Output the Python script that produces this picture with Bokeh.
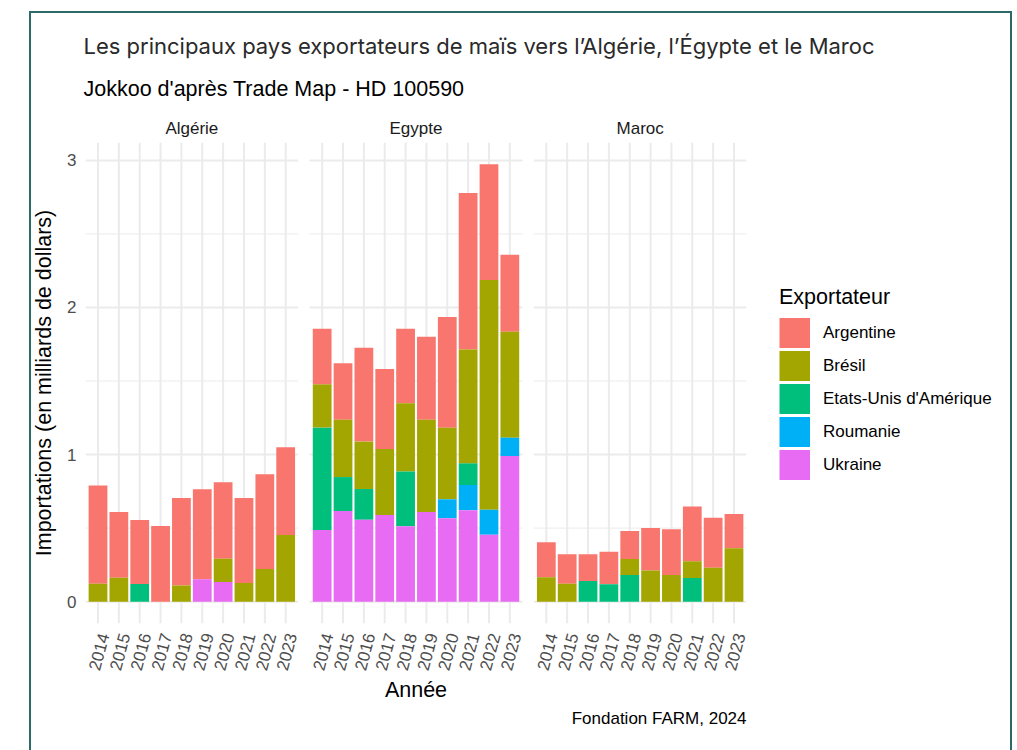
import math
import numpy as np
from bokeh.plotting import figure
from bokeh.models import (ColumnDataSource, Range1d, FixedTicker, Legend, LegendItem,
                          LinearAxis, Title)
from bokeh.embed import file_html
from bokeh.resources import INLINE

# ---------------- data ----------------
annees = ["2014", "2015", "2016", "2017", "2018", "2019", "2020", "2021", "2022", "2023"]
pays = ["Algérie", "Egypte", "Maroc"]
exportateurs = ["Argentine", "Brésil", "Etats-Unis d'Amérique", "Roumanie", "Ukraine"]
couleurs = ["#F8766D", "#A3A500", "#00BF7D", "#00B0F6", "#E76BF3"]
graduations_y = [0, 1, 2, 3]

# importations en milliards de dollars
algerie_argentine = [0.667, 0.447, 0.435, 0.514, 0.596, 0.612, 0.519, 0.578, 0.644, 0.596]
algerie_bresil = [0.122, 0.163, 0.0, 0.0, 0.109, 0.0, 0.158, 0.127, 0.222, 0.453]
algerie_etats_unis = [0.0, 0.0, 0.120, 0.0, 0.0, 0.0, 0.0, 0.0, 0.0, 0.0]
algerie_roumanie = [0.0, 0.0, 0.0, 0.0, 0.0, 0.0, 0.0, 0.0, 0.0, 0.0]
algerie_ukraine = [0.0, 0.0, 0.0, 0.0, 0.0, 0.152, 0.134, 0.0, 0.0, 0.0]

egypte_argentine = [0.379, 0.383, 0.639, 0.544, 0.508, 0.564, 0.752, 1.063, 0.786, 0.524]
egypte_bresil = [0.294, 0.390, 0.322, 0.449, 0.464, 0.627, 0.487, 0.775, 1.562, 0.720]
egypte_etats_unis = [0.696, 0.231, 0.209, 0.0, 0.372, 0.0, 0.0, 0.147, 0.0, 0.0]
egypte_roumanie = [0.0, 0.0, 0.0, 0.0, 0.0, 0.0, 0.129, 0.172, 0.170, 0.125]
egypte_ukraine = [0.487, 0.616, 0.557, 0.589, 0.512, 0.610, 0.567, 0.621, 0.455, 0.990]

maroc_argentine = [0.238, 0.200, 0.182, 0.222, 0.190, 0.290, 0.311, 0.372, 0.340, 0.233]
maroc_bresil = [0.165, 0.122, 0.0, 0.0, 0.109, 0.211, 0.181, 0.113, 0.231, 0.363]
maroc_etats_unis = [0.0, 0.0, 0.140, 0.118, 0.181, 0.0, 0.0, 0.161, 0.0, 0.0]
maroc_roumanie = [0.0, 0.0, 0.0, 0.0, 0.0, 0.0, 0.0, 0.0, 0.0, 0.0]
maroc_ukraine = [0.0, 0.0, 0.0, 0.0, 0.0, 0.0, 0.0, 0.0, 0.0, 0.0]

valeurs = {
    "Algérie": {"Argentine": algerie_argentine, "Brésil": algerie_bresil,
                "Etats-Unis d'Amérique": algerie_etats_unis, "Roumanie": algerie_roumanie,
                "Ukraine": algerie_ukraine},
    "Egypte": {"Argentine": egypte_argentine, "Brésil": egypte_bresil,
               "Etats-Unis d'Amérique": egypte_etats_unis, "Roumanie": egypte_roumanie,
               "Ukraine": egypte_ukraine},
    "Maroc": {"Argentine": maroc_argentine, "Brésil": maroc_bresil,
              "Etats-Unis d'Amérique": maroc_etats_unis, "Roumanie": maroc_roumanie,
              "Ukraine": maroc_ukraine},
}
ordre_empilement = ["Ukraine", "Roumanie", "Etats-Unis d'Amérique", "Brésil", "Argentine"]

titre = "Les principaux pays exportateurs de maïs vers l’Algérie, l’Égypte et le Maroc"
sous_titre = "Jokkoo d'après Trade Map - HD 100590"
legende_source = "Fondation FARM, 2024"

# ---------------- facets ----------------
n = len(annees)
EXPAND = 0.6
GAP = 0.55
LABEL_SHIFT = 0.28
pas = (n - 1) + 2 * EXPAND + GAP
decalages = [k * pas for k in range(len(pays))]

sources = {e: {"x": [], "bottom": [], "top": []} for e in exportateurs}
totaux = []
for k, c in enumerate(pays):
    cum = np.zeros(n)
    xs = [decalages[k] + i + 1 for i in range(n)]
    for e in ordre_empilement:
        v = np.array(valeurs[c][e], dtype=float)
        sources[e]["x"] += xs
        sources[e]["bottom"] += [float(b) for b in cum]
        sources[e]["top"] += [float(t) for t in cum + v]
        cum = cum + v
    totaux.append(float(cum.max()))
ymax = max(totaux)
pad = 0.05 * ymax

FONT = "Liberation Sans"
BORD = "#2b6a68"

p = figure(frame_width=661, frame_height=481, title=None,
           min_border_left=55, min_border_right=267, min_border_top=131, min_border_bottom=127,
           x_range=Range1d(1 - EXPAND, decalages[-1] + n + EXPAND),
           y_range=Range1d(-pad, ymax + pad),
           output_backend="svg", toolbar_location=None,
           x_axis_label="Année", y_axis_label="Importations (en milliards de dollars)")
p.margin = (11, 0, 0, 29)
p.styles = {"width": "983px",
            "box-shadow": f"inset 2px 0 0 {BORD}, inset -2px 0 0 {BORD}, inset 0 2px 0 {BORD}"}
p.border_fill_color = None
p.background_fill_color = "white"
p.outline_line_color = None
p.xgrid.visible = False
p.ygrid.visible = False
axe_x = p.xaxis[0]
axe_y = p.yaxis[0]

# grid per panel
maj = {"x0": [], "y0": [], "x1": [], "y1": []}
mino = {"x0": [], "y0": [], "x1": [], "y1": []}
for off in decalages:
    gauche = off + 1 - EXPAND
    droite = off + n + EXPAND
    for y in graduations_y:
        maj["x0"].append(gauche); maj["x1"].append(droite)
        maj["y0"].append(y); maj["y1"].append(y)
    for a, b in zip(graduations_y[:-1], graduations_y[1:]):
        m = (a + b) / 2
        mino["x0"].append(gauche); mino["x1"].append(droite)
        mino["y0"].append(m); mino["y1"].append(m)
    for i in range(n):
        maj["x0"].append(off + i + 1); maj["x1"].append(off + i + 1)
        maj["y0"].append(-pad); maj["y1"].append(ymax + pad)
p.segment(x0="x0", y0="y0", x1="x1", y1="y1", source=ColumnDataSource(mino),
          line_color="#ebebeb", line_width=1)
p.segment(x0="x0", y0="y0", x1="x1", y1="y1", source=ColumnDataSource(maj),
          line_color="#ebebeb", line_width=2)

# bars
for e, col in zip(exportateurs, couleurs):
    p.vbar(x="x", bottom="bottom", top="top", width=0.9,
           source=ColumnDataSource(sources[e]), fill_color=col, line_color=None)

# legend keys: single-point lines (invisible in the plot) drawn as full square swatches
cles = {}
for e, col in zip(exportateurs, couleurs):
    cles[e] = p.line(x=sources[e]["x"][:1], y=sources[e]["bottom"][:1],
                     line_color=col, line_width=30, line_cap="butt")

legend = Legend(items=[LegendItem(label=e, renderers=[cles[e]]) for e in exportateurs],
                location=(33, 143), title="Exportateur",
                title_text_font=FONT, title_text_font_size="21.5px",
                title_text_font_style="normal", title_text_color="black", title_standoff=7,
                label_text_font=FONT, label_text_font_size="17px", label_text_color="black",
                glyph_width=31, glyph_height=31, spacing=2, label_standoff=13,
                padding=0, margin=0, border_line_color=None, background_fill_alpha=0)
p.add_layout(legend, "right")

# axes
ticks = [off + i + 1 + LABEL_SHIFT for off in decalages for i in range(n)]
axe_x.ticker = FixedTicker(ticks=ticks, minor_ticks=[])
axe_x.major_label_overrides = {t: a for t, a in zip(ticks, annees * len(pays))}
axe_x.major_label_orientation = math.radians(75)
axe_y.ticker = FixedTicker(ticks=graduations_y, minor_ticks=[])
for ax in (axe_x, axe_y):
    ax.axis_line_color = None
    ax.major_tick_line_color = None
    ax.minor_tick_line_color = None
    ax.major_tick_out = 0
    ax.major_tick_in = 0
    ax.major_label_text_font = FONT
    ax.major_label_text_font_size = "17px"
    ax.major_label_text_color = "#4d4d4d"
    ax.axis_label_text_font = FONT
    ax.axis_label_text_font_size = "21.5px"
    ax.axis_label_text_font_style = "normal"
    ax.axis_label_text_color = "black"
axe_y.major_label_standoff = 9
axe_y.axis_label_standoff = 8
axe_x.major_label_standoff = 10
axe_x.axis_label_standoff = 2

# facet strip labels: an axis above the panels
centres = [off + (n + 1) / 2 for off in decalages]
bandeau = LinearAxis(ticker=FixedTicker(ticks=centres, minor_ticks=[]),
                     major_label_overrides={c: nom for c, nom in zip(centres, pays)},
                     axis_line_color=None, major_tick_line_color=None,
                     minor_tick_line_color=None, major_tick_out=0, major_tick_in=0,
                     major_label_standoff=5, major_label_text_font=FONT,
                     major_label_text_font_size="17px", major_label_text_color="#1a1a1a")
p.add_layout(bandeau, "above")

# titles and caption
p.add_layout(Title(text=sous_titre, align="left", offset=-2, standoff=29,
                   text_font=FONT, text_font_size="21.5px", text_font_style="normal",
                   text_color="black"), "above")
p.add_layout(Title(text=titre, align="left", offset=-2, standoff=3,
                   text_font="Inter", text_font_size="22px", text_font_style="normal",
                   text_color="#2a2a2a"), "above")
p.add_layout(Title(text=legende_source, align="right", standoff=2,
                   text_font=FONT, text_font_size="17px", text_font_style="normal",
                   text_color="black"), "below")

open("out.html", "w", encoding="utf-8").write(file_html(p, INLINE))
